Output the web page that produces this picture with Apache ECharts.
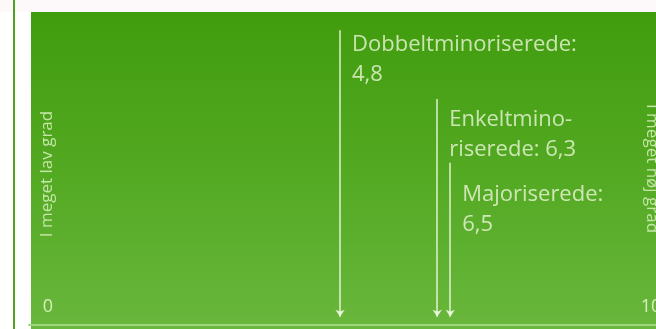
<!DOCTYPE html>
<html><head><meta charset="utf-8">
<script src="https://cdn.jsdelivr.net/npm/echarts@6/dist/echarts.min.js"></script>
<style>html,body{margin:0;padding:0;background:#fff}#c{width:656px;height:329px}</style>
</head><body><div id="c"></div>
<script>
// ---- data ----
const groups = ['Dobbeltminoriserede:', 'Enkeltmino-\nriserede:', 'Majoriserede:'];
const values = [4.8, 6.3, 6.5];
const valueSep = ['\n', ' ', '\n'];
const arrowTop = [94.2, 72.2, 51.8];
const arrowBottom = 2.6;
const tickValues = [0, 10];
const scaleNames = ['I meget lav grad', 'I meget høj grad'];

// ---- chart ----
const fmt = v => String(v).replace('.', ',');
const labelDy = [0, 6, 17];
const txt = '#ecf6da';
const FONT = 'Open Sans';
const chart = echarts.init(document.getElementById('c'), null, {renderer: 'canvas'});
const option = {
  animation: false,
  backgroundColor: '#ffffff',
  graphic: [
    {type: 'rect', z: -10, shape: {x: 0, y: 0, width: 656, height: 12}, style: {fill: '#fdf8fa'}},
    {type: 'rect', z: -10, shape: {x: 13, y: 0, width: 2, height: 329}, style: {fill: '#4fa31e'}},
    {type: 'rect', z: -10, shape: {x: 31, y: 12, width: 625, height: 317},
      style: {fill: new echarts.graphic.LinearGradient(0, 0, 0, 1, [
        {offset: 0, color: '#409c0d'},
        {offset: 0.5, color: '#53a922'},
        {offset: 1, color: '#69b73d'}
      ])}}
  ],
  grid: {left: 29, width: 648, top: 12, bottom: 4, containLabel: false, outerBoundsMode: 'none'},
  xAxis: {
    type: 'value', min: 0, max: 10, interval: 10,
    axisLine: {show: true, lineStyle: {color: '#9fd77e', width: 2}},
    axisTick: {show: false},
    splitLine: {show: false},
    axisLabel: {
      inside: true, margin: 9, color: '#d6efbf', fontFamily: FONT, fontSize: 18,
      customValues: tickValues,
      formatter: v => v === tickValues[0] ? '{l|' + v + '}' : '{r|' + v + '}',
      rich: {
        l: {color: '#d6efbf', fontFamily: FONT, fontSize: 18, padding: [0, 0, 0, 38]},
        r: {color: '#d6efbf', fontFamily: FONT, fontSize: 18, padding: [0, 52, 0, 0]}
      }
    }
  },
  yAxis: [
    {type: 'value', min: 0, max: 100, position: 'left', show: true,
      axisLine: {show: false}, axisTick: {show: false}, axisLabel: {show: false}, splitLine: {show: false},
      name: scaleNames[0], nameLocation: 'middle', nameRotate: 90, nameGap: -27,
      nameTextStyle: {color: '#c4e6a6', fontFamily: FONT, fontSize: 17, padding: [0, 11, 0, 0]}},
    {type: 'value', min: 0, max: 100, position: 'right', show: true,
      axisLine: {show: false}, axisTick: {show: false}, axisLabel: {show: false}, splitLine: {show: false},
      name: scaleNames[1], nameLocation: 'middle', nameRotate: -90, nameGap: -34,
      nameTextStyle: {color: '#c4e6a6', fontFamily: FONT, fontSize: 17}}
  ],
  series: [
    {
      type: 'lines', coordinateSystem: 'cartesian2d', xAxisIndex: 0, yAxisIndex: 0,
      symbol: ['none', 'arrow'], symbolSize: 7,
      lineStyle: {color: '#eef8e0', width: 1.5, opacity: 0.9},
      data: values.map((v, i) => ({coords: [[v, arrowTop[i]], [v, arrowBottom]]}))
    },
    {
      type: 'scatter', xAxisIndex: 0, yAxisIndex: 0, symbolSize: 0, silent: true,
      data: values.map((v, i) => ({
        value: [v, arrowTop[i]],
        label: {
          show: true, position: [12, labelDy[i]], align: 'left', verticalAlign: 'top',
          formatter: groups[i] + valueSep[i] + fmt(v),
          color: txt, fontFamily: FONT, fontSize: 22, lineHeight: 30
        }
      }))
    }
  ]
};
chart.setOption(option);
</script></body></html>
